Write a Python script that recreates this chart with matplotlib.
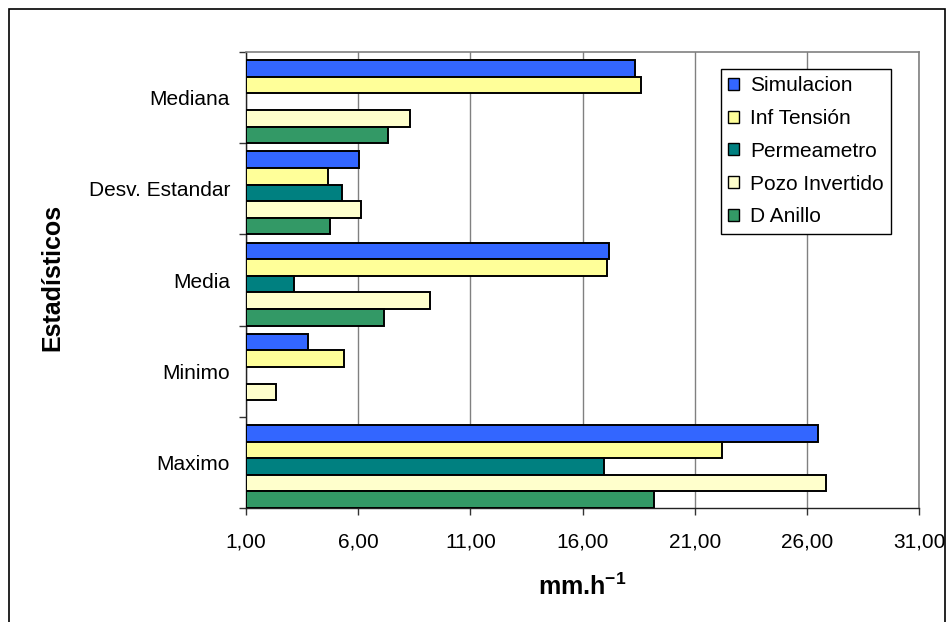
import matplotlib
matplotlib.use("Agg")
import matplotlib.pyplot as plt
from matplotlib.patches import Rectangle
from matplotlib.ticker import FixedLocator, FuncFormatter
import numpy as np

plt.rcParams['font.family'] = ['Liberation Sans', 'DejaVu Sans']
plt.rcParams['mathtext.fontset'] = 'custom'
plt.rcParams['mathtext.rm'] = 'Liberation Sans'
plt.rcParams['mathtext.bf'] = 'Liberation Sans:bold'

# data (categories listed bottom to top, as Excel draws them)
categories = ["Maximo", "Minimo", "Media", "Desv. Estandar", "Mediana"]
series_names = ["Simulacion", "Inf Tensión", "Permeametro", "Pozo Invertido", "D Anillo"]
simulacion = [26.52, 3.76, 17.18, 6.02, 18.35]
inf_tension = [22.21, 5.39, 17.10, 4.66, 18.61]
permeametro = [16.94, np.nan, 3.15, 5.29, np.nan]
pozo_invertido = [26.87, 2.33, 9.22, 6.11, 8.33]
d_anillo = [19.18, np.nan, 7.17, 4.74, 7.33]
x_ticks = [1, 6, 11, 16, 21, 26, 31]

colors = ["#3366FF", "#FFFF99", "#008080", "#FFFFCC", "#339966"]

W, H = 946, 622
fig = plt.figure(figsize=(W / 100, H / 100), dpi=100)

# plot area in pixels: left 246, right 919, top 52, bottom 508
ax = fig.add_axes([246 / W, 1 - 508 / H, (919 - 246) / W, (508 - 52) / H])

x_min, x_max = x_ticks[0], x_ticks[-1]
bar_h = 0.182
y = np.arange(len(categories))
all_series = [simulacion, inf_tension, permeametro, pozo_invertido, d_anillo]
n = len(all_series)

for j, (vals, name, c) in enumerate(zip(all_series, series_names, colors)):
    vals = np.array(vals, dtype=float)
    bottoms = y - 0.5 + (n - 1 - j) * bar_h
    ax.barh(bottoms, vals - x_min, left=x_min, height=bar_h, align='edge',
            color=c, edgecolor='black', linewidth=1.4, label=name, zorder=3)

ax.set_xlim(x_min, x_max)
ax.set_ylim(-0.5, len(categories) - 0.5)

ax.xaxis.set_major_locator(FixedLocator(x_ticks))
ax.xaxis.set_major_formatter(FuncFormatter(lambda v, p: f"{v:.2f}".replace('.', ',')))
ax.grid(axis='x', color='#808080', linewidth=1.0, zorder=0)
ax.tick_params(axis='x', direction='out', length=5, width=1, color='#333333',
               pad=13, labelsize=15)

ax.set_yticks(y)
ax.set_yticklabels(categories)
ax.yaxis.set_minor_locator(FixedLocator(np.arange(len(categories) + 1) - 0.5))
ax.tick_params(axis='y', which='major', length=0, pad=11.5, labelsize=15)
ax.tick_params(axis='y', which='minor', direction='out', length=5, width=1, color='#333333')

for s in ['top', 'right']:
    ax.spines[s].set_color('#808080')
    ax.spines[s].set_linewidth(1.2)
for s in ['left', 'bottom']:
    ax.spines[s].set_color('#222222')
    ax.spines[s].set_linewidth(1.0)

ax.set_xlabel(r"mm.h$^{\mathbf{-1}}$", fontsize=18, fontweight='bold', va='center')
ax.xaxis.set_label_coords(0.5, -(587 - 508) / (508 - 52))
ax.set_ylabel("Estadísticos", fontsize=18, fontweight='bold', va='center')
ax.yaxis.set_label_coords((52 - 246) / (919 - 246), (508 - 277) / (508 - 52))

leg = fig.legend(loc='upper left', bbox_to_anchor=(721 / W, 1 - 69 / H),
                 fontsize=15, frameon=True, fancybox=False, framealpha=1,
                 edgecolor='black', borderaxespad=0, borderpad=0.35,
                 labelspacing=0.66, handlelength=0.5, handleheight=0.5,
                 handletextpad=0.55)
leg.get_frame().set_linewidth(1.0)
for p in leg.get_patches():
    p.set_linewidth(1.0)

# outer chart border (clipped by the image at right and bottom)
fig.patches.append(Rectangle((9 / W, -0.01), (945 - 9) / W, 1.01 - 9 / H,
                             transform=fig.transFigure, fill=False,
                             edgecolor='black', linewidth=1.2))

fig.savefig("out.png", dpi=100)
